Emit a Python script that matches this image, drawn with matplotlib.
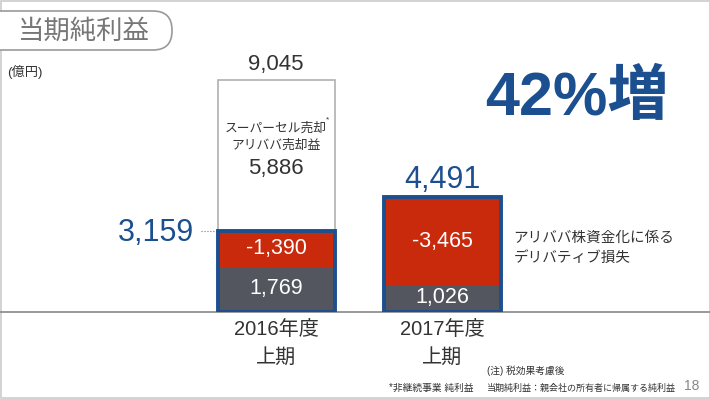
import matplotlib.pyplot as plt
from matplotlib.patches import FancyBboxPatch, Rectangle

plt.rcParams['font.family'] = ['Liberation Sans', 'Noto Sans CJK JP']

# data (億円)
periods = ['2016年度\n上期', '2017年度\n上期']
continuing = [1769, 1026]        # grey part
derivative_loss = [-1390, -3465]  # red part
net_income = [3159, 4491]         # blue-framed total
supercell_gain = 5886             # white box on 2016
total_2016 = 9045
growth_label = '42%増'

BLUE = '#1b4f8f'
RED = '#c92a0c'
GREY = '#53565e'
TXT = '#333333'

fig = plt.figure(figsize=(7.1, 3.99), dpi=100)

# decoration layer in pixel coordinates
deco = fig.add_axes([0, 0, 1, 1])
deco.set_xlim(0, 710)
deco.set_ylim(399, 0)
deco.axis('off')
deco.add_patch(Rectangle((0.5, 0.5), 709, 397.5, fill=False, ec='#cccccc', lw=1.2))
deco.add_patch(FancyBboxPatch((-30, 11), 202, 39, boxstyle='round,pad=0,rounding_size=19',
                              fc='white', ec='#999999', lw=1.2))
deco.text(84, 31, '当期純利益', fontsize=19, color='#777777', ha='center', va='center')
deco.text(7, 72, '(億円)', fontsize=9.5, color=TXT, ha='left', va='center')
deco.axhline(312, color='#888888', lw=1.2)

# chart axes: baseline at y=312px
ax = fig.add_axes([0, 87 / 399, 1, 312 / 399])
ax.axis('off')
scale = 232 / total_2016
ax.set_ylim(0, 312 / scale)
px = 166.5
ax.set_xlim(-276 / px, (710 - 276) / px)
x = [0, 1]
w = 117 / px

ax.bar(x, continuing, width=w, color=GREY, zorder=2)
ax.bar(x, [-v for v in derivative_loss], bottom=continuing, width=w, color=RED, zorder=2)
ax.bar([0], [supercell_gain], bottom=[net_income[0]], width=w, color='white',
       edgecolor='#b0b0b0', lw=1.2, zorder=1)
ax.bar(x, net_income, width=w, fill=False, edgecolor=BLUE, lw=2.8, zorder=3)

# labels inside bars
for i in x:
    ax.text(i, continuing[i] / 2 + (40 if i == 0 else 60), f'{continuing[i]:,}', color='white',
            fontsize=15.5, ha='center', va='center', zorder=4)
    ax.text(i, continuing[i] - derivative_loss[i] / 2, f'{derivative_loss[i]:,}',
            color='white', fontsize=15.5, ha='center', va='center', zorder=4)
    ax.text(i, -700, periods[i].split('\n')[0], fontsize=14.5, color=TXT,
            ha='center', va='center', clip_on=False)
    ax.text(i, -1750, periods[i].split('\n')[1], fontsize=14.5, color=TXT,
            ha='center', va='center', clip_on=False)

ax.text(0, total_2016 + 585, f'{total_2016:,}', fontsize=16, color=TXT, ha='center', va='center')
ax.text(0, 7140, 'スーパーセル売却', fontsize=9.2, color=TXT, ha='center', va='center')
ax.text(0.31, 7480, '*', fontsize=6, color=TXT, ha='center', va='center')
ax.text(0, 6480, 'アリババ売却益', fontsize=9.2, color=TXT, ha='center', va='center')
ax.text(0, 5600, f'{supercell_gain:,}', fontsize=16, color=TXT, ha='center', va='center')

ax.text(1, net_income[1] + 650, f'{net_income[1]:,}', fontsize=22, color=BLUE,
        ha='center', va='center')
ax.text(-0.49, net_income[0] - 80, f'{net_income[0]:,}', fontsize=22, color=BLUE,
        ha='right', va='center')
ax.plot([-0.45, -w / 2], [net_income[0], net_income[0]], ls=':', color='#777777', lw=0.8)

ax.text(1.81, 8300, growth_label, fontsize=44, color=BLUE, ha='center', va='center',
        fontweight='bold')
ax.text(1.425, 2900, 'アリババ株資金化に係る', fontsize=10.5, color=TXT, ha='left', va='center')
ax.text(1.425, 2120, 'デリバティブ損失', fontsize=10.5, color=TXT, ha='left', va='center')

deco.text(389, 388, '*非継続事業 純利益', fontsize=7, color=TXT, ha='left', va='center')
deco.text(487, 371, '(注) 税効果考慮後', fontsize=7, color=TXT, ha='left', va='center')
deco.text(487, 388, '当期純利益：親会社の所有者に帰属する純利益', fontsize=6.5, color=TXT,
          ha='left', va='center')
deco.text(692, 386, '18', fontsize=10, color='#888888', ha='center', va='center')

fig.savefig('out.png', dpi=100)
